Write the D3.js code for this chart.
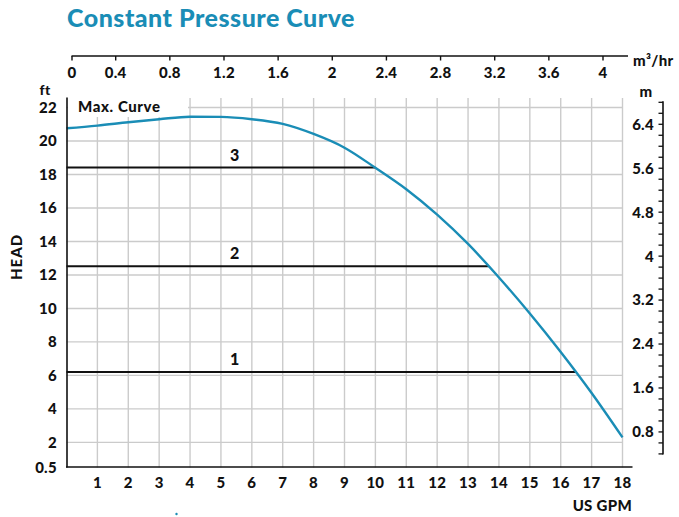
<!DOCTYPE html>
<html>
<head>
<meta charset="utf-8">
<script src="https://cdn.jsdelivr.net/npm/d3@7"></script>
<style>
  body { margin: 0; background: #fff; }
  svg text { font-family: Lato, "Open Sans", sans-serif; font-weight: 900; fill: #111; letter-spacing: 0.3px; }
</style>
</head>
<body>
<div id="chart"></div>
<script>
// flow (US GPM) and head (ft) of the max curve
var flowGpm = [0, 1, 2, 3, 4, 5, 6, 7, 8, 9, 10, 11, 12, 13, 14, 15, 16, 17, 18];
var headFt = [20.76, 20.92, 21.12, 21.3, 21.45, 21.44, 21.3, 21.02, 20.42, 19.6, 18.4, 17.12, 15.6, 13.85, 11.85, 9.7, 7.4, 4.95, 2.3];

// constant pressure settings (ft)
var settingNames = ['1', '2', '3'];
var settingHeads = [6.2, 12.52, 18.41];

// tick labels
var gpmTicks = [1, 2, 3, 4, 5, 6, 7, 8, 9, 10, 11, 12, 13, 14, 15, 16, 17, 18];
var ftTicks = [0.5, 2, 4, 6, 8, 10, 12, 14, 16, 18, 20, 22];
var m3hTicks = [0, 0.4, 0.8, 1.2, 1.6, 2, 2.4, 2.8, 3.2, 3.6, 4];
var mTicks = [0.8, 1.6, 2.4, 3.2, 4, 4.8, 5.6, 6.4];
var mMinor = d3.range(2, 35).map(function(i) { return i * 0.2; });

var width = 679, height = 517;
var blue = '#1a8db6';

var svg = d3.select('#chart').append('svg')
  .attr('width', width)
  .attr('height', height);

// scales
var x = d3.scaleLinear().domain([0, 18]).range([66.5, 622.5]);
var y = d3.scaleLinear().domain([0.5, 22]).range([467.5, 107.5]);
// top axis in m3/hr (the 0 sits a bit off the rest, as in the original)
var xm = d3.scaleLinear().domain([0, 0.4, 4]).range([72, 115.7, 603]);
var ftPerM = 3.28084;

// title
svg.append('text')
  .attr('x', 67).attr('y', 27)
  .style('font-size', '25px')
  .style('letter-spacing', '0.5px')
  .style('fill', blue)
  .text('Constant Pressure Curve');

// grid
var grid = svg.append('g').attr('stroke', '#cbcbcb').attr('stroke-width', 1.4);
grid.selectAll('line.v').data(gpmTicks).enter().append('line')
  .attr('x1', function(d) { return x(d); }).attr('x2', function(d) { return x(d); })
  .attr('y1', y(0.5)).attr('y2', 98);
grid.selectAll('line.h').data(ftTicks.slice(1)).enter().append('line')
  .attr('x1', x(0)).attr('x2', x(18))
  .attr('y1', function(d) { return y(d); }).attr('y2', function(d) { return y(d); });

// white box behind "Max. Curve"
svg.append('rect')
  .attr('x', 68).attr('y', 97).attr('width', 120).attr('height', 20)
  .attr('fill', '#fff');
svg.append('text')
  .attr('x', 78).attr('y', 112)
  .style('font-size', '15px')
  .style('letter-spacing', '0.6px')
  .text('Max. Curve');

// constant pressure lines, ending where they meet the max curve
function flowAt(h) {
  for (var i = 1; i < flowGpm.length; i++) {
    var a = headFt[i - 1], b = headFt[i];
    if (a >= h && b <= h && a !== b) {
      return flowGpm[i - 1] + (a - h) / (a - b) * (flowGpm[i] - flowGpm[i - 1]);
    }
  }
  return 18;
}
var settings = settingNames.map(function(n, i) { return { name: n, head: settingHeads[i] }; });

svg.selectAll('line.setting').data(settings).enter().append('line')
  .attr('class', 'setting')
  .attr('x1', x(0)).attr('x2', function(d) { return x(flowAt(d.head)); })
  .attr('y1', function(d) { return y(d.head); }).attr('y2', function(d) { return y(d.head); })
  .attr('stroke', '#111').attr('stroke-width', 2);

svg.selectAll('text.setting').data(settings).enter().append('text')
  .attr('class', 'setting')
  .attr('x', x(5.45)).attr('y', function(d) { return y(d.head) - 7; })
  .attr('text-anchor', 'middle')
  .style('font-size', '16px')
  .text(function(d) { return d.name; });

// max curve
var line = d3.line()
  .x(function(d, i) { return x(flowGpm[i]); })
  .y(function(d) { return y(d); })
  .curve(d3.curveMonotoneX);
svg.append('path')
  .datum(headFt)
  .attr('d', line)
  .attr('fill', 'none')
  .attr('stroke', blue)
  .attr('stroke-width', 2.4);

// left axis
svg.append('line')
  .attr('x1', 67).attr('x2', 67).attr('y1', 97.5).attr('y2', 467.5)
  .attr('stroke', '#111').attr('stroke-width', 1.6);
svg.selectAll('text.ft').data(ftTicks).enter().append('text')
  .attr('class', 'ft')
  .attr('x', 57).attr('y', function(d) { return y(d); }).attr('dy', '0.36em')
  .attr('text-anchor', 'end')
  .style('font-size', '15px')
  .text(function(d) { return d; });
svg.append('text')
  .attr('x', 45).attr('y', 89.5).attr('dy', '0.36em')
  .attr('text-anchor', 'middle')
  .style('font-size', '14px')
  .text('ft');
svg.append('text')
  .attr('transform', 'translate(17,257) rotate(-90)')
  .attr('dy', '0.36em')
  .attr('text-anchor', 'middle')
  .style('font-size', '15px')
  .style('letter-spacing', '1px')
  .text('HEAD');

// bottom axis
svg.append('line')
  .attr('x1', 66).attr('x2', 632.5).attr('y1', 467).attr('y2', 467)
  .attr('stroke', '#111').attr('stroke-width', 1.6);
svg.selectAll('text.gpm').data(gpmTicks).enter().append('text')
  .attr('class', 'gpm')
  .attr('x', function(d) { return x(d); }).attr('y', 483).attr('dy', '0.36em')
  .attr('text-anchor', 'middle')
  .style('font-size', '15px')
  .text(function(d) { return d; });
svg.append('text')
  .attr('x', 632).attr('y', 506).attr('dy', '0.36em')
  .attr('text-anchor', 'end')
  .style('font-size', '15px')
  .text('US GPM');

// top axis (m3/hr)
svg.append('line')
  .attr('x1', 71.5).attr('x2', 628).attr('y1', 56).attr('y2', 56)
  .attr('stroke', '#111').attr('stroke-width', 1.6);
svg.selectAll('line.m3h').data(m3hTicks).enter().append('line')
  .attr('class', 'm3h')
  .attr('x1', function(d) { return xm(d); }).attr('x2', function(d) { return xm(d); })
  .attr('y1', 56).attr('y2', 60.5)
  .attr('stroke', '#111').attr('stroke-width', 1.4);
svg.selectAll('text.m3h').data(m3hTicks).enter().append('text')
  .attr('class', 'm3h')
  .attr('x', function(d) { return xm(d); }).attr('y', 73).attr('dy', '0.36em')
  .attr('text-anchor', 'middle')
  .style('font-size', '15px')
  .text(function(d) { return d; });
svg.append('text')
  .attr('x', 633).attr('y', 61).attr('dy', '0.36em')
  .style('font-size', '15px')
  .text('m³/hr');

// right axis (m), same height scale converted from ft
svg.append('line')
  .attr('x1', 663).attr('x2', 663).attr('y1', y(6.8 * ftPerM) - 1).attr('y2', y(0.4 * ftPerM) + 0.5)
  .attr('stroke', '#111').attr('stroke-width', 1.6);
svg.selectAll('line.mminor').data(mMinor).enter().append('line')
  .attr('class', 'mminor')
  .attr('x1', 658.5).attr('x2', 663)
  .attr('y1', function(d) { return y(d * ftPerM); }).attr('y2', function(d) { return y(d * ftPerM); })
  .attr('stroke', '#111').attr('stroke-width', 1.3);
svg.selectAll('text.m').data(mTicks).enter().append('text')
  .attr('class', 'm')
  .attr('x', 654).attr('y', function(d) { return y(d * ftPerM); }).attr('dy', '0.36em')
  .attr('text-anchor', 'end')
  .style('font-size', '15px')
  .text(function(d) { return d; });
svg.append('text')
  .attr('x', 646).attr('y', 92).attr('dy', '0.36em')
  .attr('text-anchor', 'middle')
  .style('font-size', '15px')
  .text('m');

// small stray mark below the chart
svg.append('circle')
  .attr('cx', 176.5).attr('cy', 514).attr('r', 1.2)
  .attr('fill', blue);
</script>
</body>
</html>
